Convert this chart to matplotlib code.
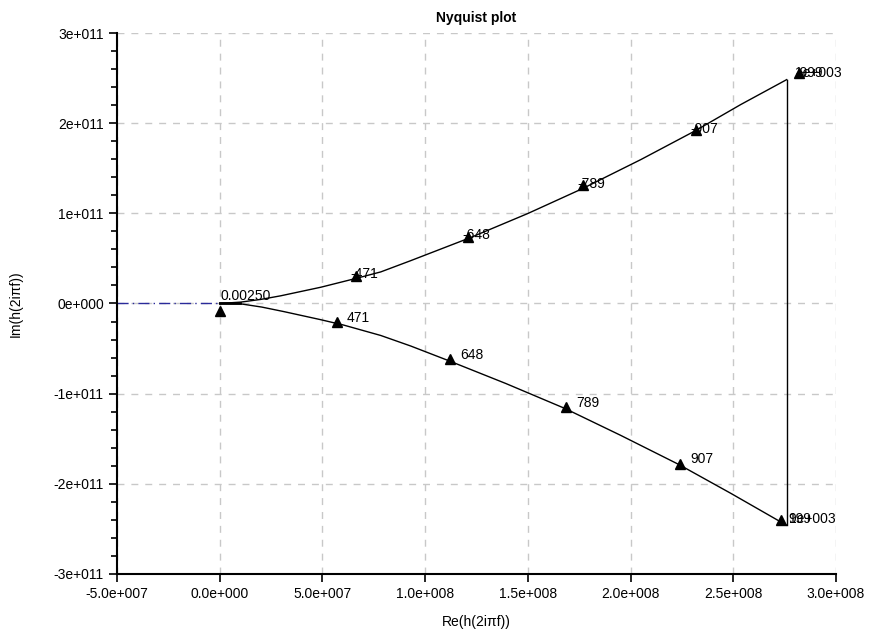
import matplotlib
matplotlib.use("Agg")
import matplotlib.pyplot as plt
from matplotlib.ticker import FixedLocator, FixedFormatter, MultipleLocator

plt.rcParams['font.family'] = ['Liberation Sans', 'DejaVu Sans']

# curve samples (Re in 1e8, Im in 1e11)
lower_re = [0.0, 0.102, 0.205, 0.312, 0.492, 0.604, 0.784, 0.93, 1.115, 1.392, 1.68,
            1.952, 2.234, 2.488, 2.76]
lower_im = [0.0, -0.004, -0.04, -0.09, -0.18, -0.24, -0.355, -0.472, -0.635, -0.887,
            -1.164, -1.463, -1.785, -2.106, -2.461]
upper_re = [0.0, 0.102, 0.20, 0.297, 0.492, 0.672, 0.784, 0.93, 1.222, 1.50, 1.767,
            2.05, 2.317, 2.536, 2.76]
upper_im = [0.0, 0.015, 0.045, 0.085, 0.18, 0.283, 0.35, 0.475, 0.732, 0.998, 1.275,
            1.596, 1.918, 2.206, 2.483]

# frequency markers and their labels
mark_re = [0.0, 0.57, 1.12, 1.685, 2.24, 2.73, 0.665, 1.21, 1.77, 2.32, 2.82]
mark_im = [-0.08, -0.21, -0.62, -1.15, -1.78, -2.40, 0.31, 0.74, 1.31, 1.92, 2.56]
mark_txt = ['0.00250', '471', '648', '789', '907', '999', '-471', '-648', '-789', '-907', '-999']
end_txt = '1e+003'

xticks = [-0.5, 0.0, 0.5, 1.0, 1.5, 2.0, 2.5, 3.0]
xtick_labels = ['-5.0e+007', '0.0e+000', '5.0e+007', '1.0e+008', '1.5e+008',
                '2.0e+008', '2.5e+008', '3.0e+008']
yticks = [-3, -2, -1, 0, 1, 2, 3]
ytick_labels = ['-3e+011', '-2e+011', '-1e+011', '0e+000', '1e+011', '2e+011', '3e+011']

fig = plt.figure(figsize=(8.73, 6.30), dpi=100)
ax = fig.add_axes([0.134, 0.089, 0.8236, 0.8586])

ax.plot([-0.5, 0.0], [0, 0], color='#2a2a9a', lw=1, ls='-.', dashes=(8, 3, 1, 3))
ax.plot(lower_re, lower_im, color='black', lw=1)
ax.plot(upper_re, upper_im, color='black', lw=1)
ax.plot([lower_re[-1], upper_re[-1]], [lower_im[-1], upper_im[-1]], color='black', lw=1)
# short thick stub at the start, as in the original
ax.plot([0.0, 0.1], [0.0, 0.0], color='black', lw=2)

ax.plot(mark_re, mark_im, ls='none', marker='^', ms=7, color='black')
for i, (x, y, t) in enumerate(zip(mark_re, mark_im, mark_txt)):
    if i == 0:
        ax.text(0.005, 0.01, t, fontsize=10, ha='left', va='bottom')
    elif i == 5 or i == 10:
        continue
    elif t.startswith('-'):
        ax.text(x - 0.03, y + 0.02, t, fontsize=10, ha='left', va='center')
    else:
        ax.text(x + 0.05, y + 0.05, t, fontsize=10, ha='left', va='center')
# end point labels overlap in the original too
ax.text(2.80, 2.56, mark_txt[10], fontsize=10, ha='left', va='center')
ax.text(2.80, 2.56, end_txt, fontsize=10, ha='left', va='center')
ax.text(2.77, -2.395, mark_txt[5], fontsize=10, ha='left', va='center')
ax.text(2.77, -2.395, end_txt, fontsize=10, ha='left', va='center')

ax.set_xlim(-0.5, 3.0)
ax.set_ylim(-3, 3)
ax.xaxis.set_major_locator(FixedLocator(xticks))
ax.xaxis.set_major_formatter(FixedFormatter(xtick_labels))
ax.yaxis.set_major_locator(FixedLocator(yticks))
ax.yaxis.set_major_formatter(FixedFormatter(ytick_labels))
ax.yaxis.set_minor_locator(MultipleLocator(0.2))
ax.tick_params(axis='both', which='major', length=6, width=1.2, labelsize=10, direction='out')
ax.tick_params(axis='y', which='minor', length=4, width=1.2, direction='out')

ax.grid(True, which='major', color='#c8c8c8', ls=(0, (5, 5)), lw=1)
ax.set_axisbelow(True)
ax.spines['top'].set_visible(False)
ax.spines['right'].set_visible(False)
ax.spines['left'].set_linewidth(1.5)
ax.spines['bottom'].set_linewidth(1.5)

ax.set_title('Nyquist plot', fontsize=10, fontweight='bold', pad=8)
ax.set_xlabel('Re(h(2iπf))', fontsize=10, labelpad=10)
ax.set_ylabel('Im(h(2iπf))', fontsize=10, labelpad=22)

fig.savefig('out.png', dpi=100)
